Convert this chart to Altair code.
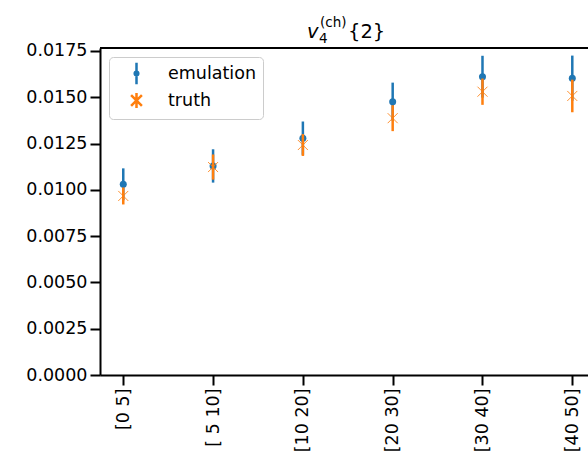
import altair as alt
import pandas as pd

bins = ["[0 5]", "[ 5 10]", "[10 20]", "[20 30]", "[30 40]", "[40 50]"]
emu_val = [0.01030, 0.01129, 0.01279, 0.01476, 0.01611, 0.01603]
emu_err = [0.00086, 0.00090, 0.00090, 0.00103, 0.00113, 0.00122]
truth_val = [0.00967, 0.01123, 0.01242, 0.01387, 0.01530, 0.01507]
truth_err = [0.00046, 0.00068, 0.00059, 0.00070, 0.00071, 0.00088]
series = ["emulation", "truth"]
colors = ["#1f77b4", "#ff7f0e"]
y_ticks = [0.0, 0.0025, 0.005, 0.0075, 0.01, 0.0125, 0.015, 0.0175]

rows = []
for name, vals, errs in [("emulation", emu_val, emu_err), ("truth", truth_val, truth_err)]:
    for b, v, e in zip(bins, vals, errs):
        rows.append({"bin": b, "series": name, "value": v, "lo": v - e, "hi": v + e})
df = pd.DataFrame(rows)

W, H = 488, 327
FONT = "DejaVu Sans"

xenc = alt.X(
    "bin:N",
    scale=alt.Scale(type="point", domain=bins, padding=0.217, align=0.597),
    axis=alt.Axis(title=None, labelAngle=-90, labelPadding=3),
)
yscale = alt.Scale(domain=[0, 0.01766], nice=False, zero=True)
yaxis = alt.Axis(title=None, values=y_ticks, format=".4f", labelPadding=3)

base = alt.Chart(df).encode(x=xenc)

emu = base.transform_filter(alt.datum.series == "emulation")
tru = base.transform_filter(alt.datum.series == "truth")

emu_rule = emu.mark_rule(color=colors[0], strokeWidth=2.5).encode(
    y=alt.Y("lo:Q", scale=yscale, axis=yaxis), y2="hi:Q"
)
emu_dot = emu.mark_circle(color=colors[0], size=49, opacity=1).encode(
    y=alt.Y("value:Q", scale=yscale, axis=yaxis)
)
tru_rule = tru.mark_rule(color=colors[1], strokeWidth=2.5).encode(
    y=alt.Y("lo:Q", scale=yscale, axis=yaxis), y2="hi:Q"
)
x_path = "M-1,-1L1,1M-1,1L1,-1"
tru_x = tru.mark_point(shape=x_path, filled=False, color=colors[1], size=100,
                       strokeWidth=1.0, opacity=0.85).encode(
    y=alt.Y("value:Q", scale=yscale, axis=yaxis)
)

emu_sym = "M0,-1.2L0,1.2M-0.2,0A0.2,0.2,0,1,1,0.2,0A0.2,0.2,0,1,1,-0.2,0Z"
tru_sym = "M0,-0.83L0,0.83M-0.6,-0.6L0.6,0.6M-0.6,0.6L0.6,-0.6"
legend_layer = base.transform_filter("false").mark_point(filled=False, strokeWidth=2.5, opacity=1).encode(
    y=alt.Y("value:Q", scale=yscale, axis=yaxis),
    color=alt.Color("series:N", scale=alt.Scale(domain=series, range=colors), legend=alt.Legend(title=None)),
    shape=alt.Shape("series:N", scale=alt.Scale(domain=series, range=[emu_sym, tru_sym]), legend=alt.Legend(title=None)),
)

one = alt.Data(values=[{}])
top_border = alt.Chart(one).mark_rule(color="black", strokeWidth=2).encode(
    x=alt.value(0), x2=alt.value(W), y=alt.value(0)
)

t_v = alt.Chart(one).mark_text(text="v", font=FONT, fontStyle="italic", fontSize=19.5,
                               align="left", baseline="alphabetic", color="black").encode(
    x=alt.value(207), y=alt.value(-10))
t_sub = alt.Chart(one).mark_text(text="4", font=FONT, fontSize=13.5,
                                 align="left", baseline="alphabetic", color="black").encode(
    x=alt.value(219), y=alt.value(-5))
t_sup = alt.Chart(one).mark_text(text="(ch)", font=FONT, fontSize=13.5,
                                 align="left", baseline="alphabetic", color="black").encode(
    x=alt.value(220), y=alt.value(-21))
t_rest = alt.Chart(one).mark_text(text="{2}", font=FONT, fontSize=19.5,
                                  align="left", baseline="alphabetic", color="black").encode(
    x=alt.value(248), y=alt.value(-10))

chart = alt.layer(
    emu_rule, emu_dot, tru_rule, tru_x, legend_layer, top_border, t_v, t_sub, t_sup, t_rest
).properties(
    width=W, height=H,
    autosize=alt.AutoSizeParams(type="none"),
    padding={"left": 100, "top": 48, "right": 0, "bottom": 86},
).configure_view(
    stroke=None
).configure_axis(
    grid=False, tickSize=10, tickWidth=2, tickColor="black",
    domainColor="black", domainWidth=2,
    labelFont=FONT, labelFontSize=17.5, labelColor="black",
).configure_legend(
    orient="top-left", offset=9, padding=6,
    fillColor="white", strokeColor="#cccccc", cornerRadius=4,
    symbolSize=324, symbolStrokeWidth=2.5, symbolOffset=11,
    labelOffset=21, labelFont=FONT, labelFontSize=17.5, labelColor="black",
    rowPadding=-5,
)

chart.save("out.html", embed_options={"renderer": "svg", "actions": False})
